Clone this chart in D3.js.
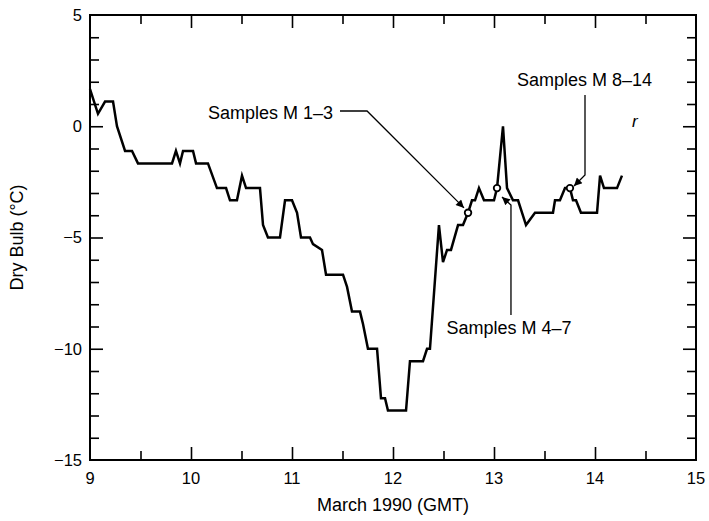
<!DOCTYPE html>
<html><head><meta charset="utf-8">
<script src="https://cdn.jsdelivr.net/npm/d3@7"></script>
<style>
body{margin:0;background:#fff;}
text{font-family:"Liberation Sans",Arial,sans-serif;fill:#000;}
</style></head>
<body><svg id="c" width="709" height="521"></svg>
<script>
// Day of March 1990 (GMT)
const days = [9.000,9.079,9.149,9.228,9.267,9.347,9.416,9.475,9.812,9.851,9.891,9.921,10.020,10.050,10.168,10.257,10.347,10.386,10.455,10.505,10.545,10.683,10.713,10.762,10.881,10.931,11.000,11.050,11.089,11.178,11.208,11.297,11.337,11.505,11.545,11.594,11.673,11.703,11.752,11.842,11.881,11.921,11.950,12.129,12.168,12.297,12.337,12.366,12.455,12.495,12.535,12.574,12.644,12.693,12.743,12.782,12.812,12.851,12.901,13.000,13.030,13.089,13.129,13.188,13.238,13.317,13.406,13.584,13.604,13.653,13.703,13.733,13.752,13.782,13.812,13.861,14.020,14.050,14.089,14.218,14.267];
// Dry bulb temperature (°C)
const dryBulb = [1.67,0.56,1.11,1.11,0,-1.11,-1.11,-1.67,-1.67,-1.11,-1.67,-1.11,-1.11,-1.67,-1.67,-2.78,-2.78,-3.33,-3.33,-2.22,-2.78,-2.78,-4.44,-5.0,-5.0,-3.33,-3.33,-3.89,-5.0,-5.0,-5.3,-5.56,-6.67,-6.67,-7.22,-8.33,-8.33,-8.89,-10.0,-10.0,-12.22,-12.22,-12.78,-12.78,-10.56,-10.56,-10.0,-10.0,-4.44,-6.11,-5.56,-5.56,-4.44,-4.44,-3.89,-3.33,-3.33,-2.78,-3.33,-3.33,-2.78,0,-2.78,-3.33,-3.33,-4.44,-3.89,-3.89,-3.33,-3.33,-2.78,-2.78,-2.78,-3.33,-3.33,-3.89,-3.89,-2.22,-2.78,-2.78,-2.22];
// Sample marker positions
const sampleDays = [12.743,13.030,13.752];
const sampleTemps = [-3.89,-2.78,-2.78];
// Annotations
const annLabels = ["Samples M 1\u20133","Samples M 4\u20137","Samples M 8\u201314"];
const xTickLabels = [9,10,11,12,13,14,15];
const yTickLabels = [-15,-10,-5,0,5];

const svg = d3.select("#c");
const L=90,R=696,T=15,B=460;
const x = d3.scaleLinear().domain([9,15]).range([L,R]);
const y = d3.scaleLinear().domain([-15,5]).range([B,T]);

// ticks
const g = svg.append("g");
function ticks(axisFn, vals, size, transform){
  const a = axisFn.tickValues(vals).tickSize(size).tickFormat("");
  const s = g.append("g").attr("transform",transform).call(a);
  s.select(".domain").remove();
  s.selectAll("line").attr("stroke","#000").attr("stroke-width",1.6);
}
const yMinor = d3.range(-15,6,1).filter(v=>v%5!==0);
const xMinor = [9.5,10.5,11.5,12.5,13.5,14.5];
const xMajor = [10,11,12,13,14];
const yMajor = [-10,-5,0];
ticks(d3.axisLeft(y), yMinor, -9, `translate(${L},0)`);
ticks(d3.axisLeft(y), yMajor, -13, `translate(${L},0)`);
ticks(d3.axisRight(y), yMinor, -9, `translate(${R},0)`);
ticks(d3.axisRight(y), yMajor, -13, `translate(${R},0)`);
ticks(d3.axisBottom(x), xMinor, -9, `translate(0,${B})`);
ticks(d3.axisBottom(x), xMajor, -13, `translate(0,${B})`);
ticks(d3.axisTop(x), xMinor, -9, `translate(0,${T})`);
ticks(d3.axisTop(x), xMajor, -13, `translate(0,${T})`);

// frame
svg.append("rect").attr("x",L).attr("y",T).attr("width",R-L).attr("height",B-T)
  .attr("fill","none").attr("stroke","#000").attr("stroke-width",2);

// tick labels
svg.append("g").selectAll("text").data(yTickLabels).join("text")
  .attr("x",L-8).attr("y",d=>y(d)).attr("dy","0.36em").attr("text-anchor","end")
  .attr("font-size",16.5).text(d=>d3.format("d")(d));
svg.append("g").selectAll("text").data(xTickLabels).join("text")
  .attr("x",d=>x(d)).attr("y",B+24).attr("text-anchor","middle")
  .attr("font-size",16.5).text(d=>d);

// axis titles
svg.append("text").attr("x",x(12)).attr("y",511).attr("text-anchor","middle")
  .attr("font-size",18).text("March 1990 (GMT)");
svg.append("text").attr("transform",`translate(23,${(T+B)/2}) rotate(-90)`)
  .attr("text-anchor","middle").attr("font-size",18).text("Dry Bulb (\u00B0C)");

// data line
const pts = days.map((d,i)=>[d,dryBulb[i]]);
svg.append("path").datum(pts)
  .attr("d",d3.line().x(d=>x(d[0])).y(d=>y(d[1])))
  .attr("fill","none").attr("stroke","#000").attr("stroke-width",2.5).attr("stroke-linejoin","miter");

// sample circles
svg.append("g").selectAll("circle").data(sampleDays).join("circle")
  .attr("cx",d=>x(d)).attr("cy",(d,i)=>y(sampleTemps[i])).attr("r",3.3)
  .attr("fill","#fff").attr("stroke","#000").attr("stroke-width",1.8);

// arrow marker
svg.append("defs").append("marker").attr("id","ah").attr("viewBox","0 0 10 10")
  .attr("refX",10).attr("refY",5).attr("markerWidth",11).attr("markerHeight",8)
  .attr("markerUnits","userSpaceOnUse").attr("orient","auto")
  .append("path").attr("d","M0,0L10,5L0,10z").attr("fill","#000");

const leaders = [
  [[11.475,0.685],[11.743,0.685],[12.703,-3.67]],
  [[13.168,-8.48],[13.168,-3.54],[13.079,-3.18]],
  [[13.901,1.404],[13.901,-2.19],[13.792,-2.685]]
];
const lineGen = d3.line().x(d=>x(d[0])).y(d=>y(d[1]));
leaders.forEach(p=>{
  svg.append("path").attr("d",lineGen(p)).attr("fill","none")
    .attr("stroke","#000").attr("stroke-width",1.3).attr("marker-end","url(#ah)");
});
const labelPos = [[11.406,0.326,"end"],[13.149,-9.34,"middle"],[13.896,1.81,"middle"]];
annLabels.forEach((t,i)=>{
  svg.append("text").attr("x",x(labelPos[i][0])).attr("y",y(labelPos[i][1]))
    .attr("text-anchor",labelPos[i][2]).attr("font-size",18).text(t);
});
// stray mark
svg.append("text").attr("x",632).attr("y",127).attr("font-size",17)
  .attr("font-style","italic").text("r");
</script></body></html>
